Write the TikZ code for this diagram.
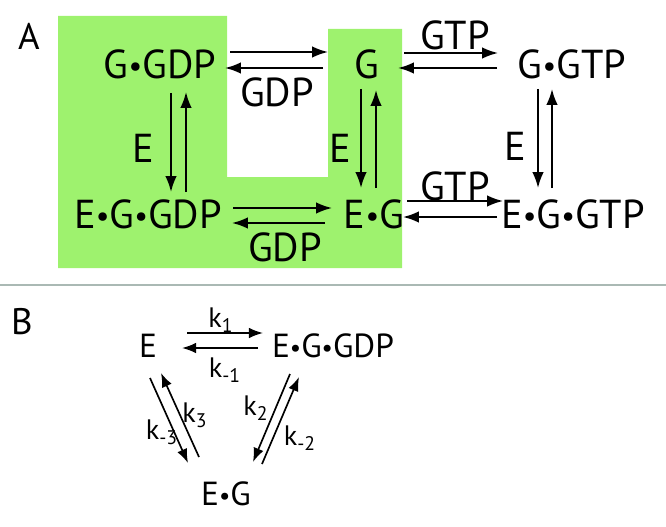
\documentclass[tikz,border=0pt]{standalone}
\usepackage{fontspec}
\setmainfont{PT Sans}
\usepackage{tikz}
\usetikzlibrary{calc, arrows.meta}

\definecolor{gefgreen}{RGB}{158,242,110}
\definecolor{rulegray}{RGB}{170,185,180}

% small bullet between species
\newcommand{\bul}{\raisebox{0.03em}{\scalebox{0.75}{•}}}

\tikzset{
  big/.style={font=\fontsize{23}{25}\selectfont, inner sep=0pt},
  panel/.style={font=\fontsize{21}{23}\selectfont, inner sep=0pt},
  small/.style={font=\fontsize{19}{21}\selectfont, inner sep=0pt},
  rate/.style={font=\fontsize{16}{18}\selectfont, inner sep=0pt},
  rxn/.style={-{Latex[length=9pt,width=6.5pt]}, line width=1.1pt},
  rxnb/.style={-{Latex[length=8pt,width=6pt]}, line width=0.95pt}
}

\begin{document}
\begin{tikzpicture}[x=0.02cm, y=-0.02cm]
\useasboundingbox (0,0) rectangle (666,527);

%% ─── Panel A: shaded region ─────────────────────────────────
\fill[gefgreen] (58,16) -- (227,16) -- (227,177) -- (328,177) -- (328,29)
  -- (402,29) -- (402,268) -- (58,268) -- cycle;

\node[panel] (labA) at (29,36) {A};

%% species
\node[big] (ggdp)  at (160,64)  {G\bul GDP};
\node[big] (g)     at (367,64)  {G};
\node[big] (ggtp)  at (572,64)  {G\bul GTP};
\node[big] (eggdp) at (148,214) {E\bul G\bul GDP};
\node[big] (eg)    at (374,214) {E\bul G};
\node[big] (eggtp) at (573,214) {E\bul G\bul GTP};

%% horizontal pairs
\draw[rxn] ($(ggdp)+(70,-12)$) -- ($(g)+(-39,-12)$);
\draw[rxn] ($(g)+(-44,4)$) -- ($(ggdp)+(65,4)$);
\node[big] (gdp1) at (277,92) {GDP};

\draw[rxn] ($(g)+(37,-11)$) -- ($(ggtp)+(-74,-11)$);
\draw[rxn] ($(ggtp)+(-75,4)$) -- ($(g)+(31,4)$);
\node[big] (gtp1) at (455,35) {GTP};

\draw[rxn] ($(eggdp)+(85,-6)$) -- ($(eg)+(-42,-6)$);
\draw[rxn] ($(eg)+(-49,9)$) -- ($(eggdp)+(84,9)$);
\node[big] (gdp2) at (285,247) {GDP};

\draw[rxn] ($(eg)+(33,-13)$) -- ($(eggtp)+(-70,-13)$);
\draw[rxn] ($(eggtp)+(-76,3)$) -- ($(eg)+(29,3)$);
\node[big] (gtp2) at (455,186) {GTP};

%% vertical pairs
\draw[rxn] ($(ggdp)+(11,29)$) -- ($(eggdp)+(23,-22)$);
\draw[rxn] ($(eggdp)+(38,-22)$) -- ($(ggdp)+(26,28)$);
\node[big] (e1) at (143,148) {E};

\draw[rxn] ($(g)+(-6,25)$) -- ($(eg)+(-13,-26)$);
\draw[rxn] ($(eg)+(2,-26)$) -- ($(g)+(9,26)$);
\node[big] (e2) at (340,148) {E};

\draw[rxn] ($(ggtp)+(-34,25)$) -- ($(eggtp)+(-35,-26)$);
\draw[rxn] ($(eggtp)+(-21,-26)$) -- ($(ggtp)+(-20,25)$);
\node[big] (e3) at (515,146) {E};

%% ─── Separator ──────────────────────────────────────────────
\draw[rulegray, line width=1.2pt] (0,285) -- (666,285);

%% ─── Panel B ────────────────────────────────────────────────
\node[panel] (labB) at (22,322) {B};

\node[small] (e)     at (148,346) {E};
\node[small] (egdpb) at (333,346) {E\bul G\bul GDP};
\node[small] (egb)   at (226,494) {E\bul G};

\draw[rxnb] ($(e)+(39,-13)$) -- ($(egdpb)+(-70,-13)$);
\draw[rxnb] ($(egdpb)+(-75,2)$) -- ($(e)+(34,2)$);
\node[rate] (k1)  at (221,320) {k\textsubscript{1}};
\node[rate] (km1) at (225,370) {k\textsubscript{-1}};

\draw[rxnb] ($(e)+(2,32)$) -- ($(egb)+(-38,-31)$);
\draw[rxnb] ($(egb)+(-27,-37)$) -- ($(e)+(13,27)$);
\node[rate] (k3)  at (195,415) {k\textsubscript{3}};
\node[rate] (km3) at (162,432) {k\textsubscript{-3}};

\draw[rxnb] ($(egdpb)+(-43,28)$) -- ($(egb)+(27,-32)$);
\draw[rxnb] ($(egb)+(36,-30)$) -- ($(egdpb)+(-34,31)$);
\node[rate] (k2)  at (256,408) {k\textsubscript{2}};
\node[rate] (km2) at (300,438) {k\textsubscript{-2}};

\end{tikzpicture}
\end{document}
